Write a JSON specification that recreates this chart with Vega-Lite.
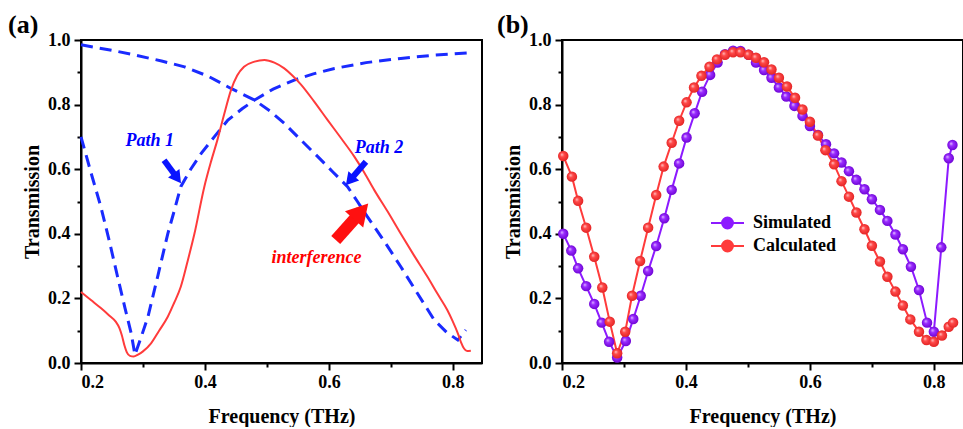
{
  "$schema": "https://vega.github.io/schema/vega-lite/v6.json",
  "background": "white",
  "padding": {"left": 7, "top": 11, "right": 0, "bottom": 0},
  "spacing": 13,
  "config": {
    "view": {"stroke": "black", "strokeWidth": 2},
    "font": "Liberation Serif",
    "axis": {
      "grid": false,
      "domainColor": "black", "domainWidth": 2,
      "tickColor": "black", "tickWidth": 2,
      "labelFont": "Liberation Serif", "labelFontWeight": "bold", "labelFontSize": 18, "labelColor": "black",
      "titleFont": "Liberation Serif", "titleFontWeight": "bold", "titleFontSize": 20, "titleColor": "black",
      "labelOverlap": false
    },
    "axisX": {"labelPadding": 3, "titlePadding": 15},
    "axisY": {"labelPadding": 4, "titlePadding": 5},
    "title": {"font": "Liberation Serif", "fontSize": 26, "fontWeight": "bold", "color": "black", "anchor": "start", "frame": "group", "offset": -7}
  },
  "datasets": {
    "interference": [
      {"f": 0.2, "t": 0.22}, {"f": 0.216, "t": 0.195}, {"f": 0.232, "t": 0.17}, {"f": 0.245, "t": 0.148},
      {"f": 0.256, "t": 0.128}, {"f": 0.262, "t": 0.108}, {"f": 0.266, "t": 0.085}, {"f": 0.27, "t": 0.055},
      {"f": 0.274, "t": 0.033}, {"f": 0.279, "t": 0.022}, {"f": 0.285, "t": 0.02}, {"f": 0.292, "t": 0.026},
      {"f": 0.3, "t": 0.036}, {"f": 0.313, "t": 0.061}, {"f": 0.326, "t": 0.1}, {"f": 0.34, "t": 0.143},
      {"f": 0.35, "t": 0.185}, {"f": 0.361, "t": 0.236}, {"f": 0.372, "t": 0.315}, {"f": 0.383, "t": 0.4},
      {"f": 0.399, "t": 0.546}, {"f": 0.41, "t": 0.625}, {"f": 0.42, "t": 0.69}, {"f": 0.431, "t": 0.77},
      {"f": 0.442, "t": 0.845}, {"f": 0.452, "t": 0.89}, {"f": 0.463, "t": 0.917}, {"f": 0.48, "t": 0.933},
      {"f": 0.496, "t": 0.938}, {"f": 0.512, "t": 0.93}, {"f": 0.528, "t": 0.912}, {"f": 0.541, "t": 0.89},
      {"f": 0.555, "t": 0.862}, {"f": 0.576, "t": 0.81}, {"f": 0.598, "t": 0.752}, {"f": 0.62, "t": 0.695},
      {"f": 0.641, "t": 0.639}, {"f": 0.657, "t": 0.59}, {"f": 0.673, "t": 0.536}, {"f": 0.695, "t": 0.468},
      {"f": 0.716, "t": 0.4}, {"f": 0.737, "t": 0.334}, {"f": 0.759, "t": 0.267}, {"f": 0.775, "t": 0.215},
      {"f": 0.791, "t": 0.164}, {"f": 0.8, "t": 0.128}, {"f": 0.808, "t": 0.092}, {"f": 0.813, "t": 0.065},
      {"f": 0.818, "t": 0.045}, {"f": 0.823, "t": 0.037}, {"f": 0.829, "t": 0.038}
    ],
    "paths": [
      {"series": "Path 1", "f": 0.2, "t": 0.7}, {"series": "Path 1", "f": 0.216, "t": 0.59},
      {"series": "Path 1", "f": 0.232, "t": 0.484}, {"series": "Path 1", "f": 0.246, "t": 0.375},
      {"series": "Path 1", "f": 0.259, "t": 0.267}, {"series": "Path 1", "f": 0.271, "t": 0.17},
      {"series": "Path 1", "f": 0.281, "t": 0.092}, {"series": "Path 1", "f": 0.287, "t": 0.025},
      {"series": "Path 1", "f": 0.297, "t": 0.08}, {"series": "Path 1", "f": 0.308, "t": 0.143},
      {"series": "Path 1", "f": 0.324, "t": 0.27}, {"series": "Path 1", "f": 0.34, "t": 0.4},
      {"series": "Path 1", "f": 0.351, "t": 0.475}, {"series": "Path 1", "f": 0.361, "t": 0.546},
      {"series": "Path 1", "f": 0.377, "t": 0.6}, {"series": "Path 1", "f": 0.394, "t": 0.649},
      {"series": "Path 1", "f": 0.415, "t": 0.7}, {"series": "Path 1", "f": 0.437, "t": 0.752},
      {"series": "Path 1", "f": 0.46, "t": 0.787}, {"series": "Path 1", "f": 0.48, "t": 0.814},
      {"series": "Path 1", "f": 0.51, "t": 0.848}, {"series": "Path 1", "f": 0.544, "t": 0.876},
      {"series": "Path 1", "f": 0.575, "t": 0.895}, {"series": "Path 1", "f": 0.609, "t": 0.912},
      {"series": "Path 1", "f": 0.66, "t": 0.93}, {"series": "Path 1", "f": 0.716, "t": 0.943},
      {"series": "Path 1", "f": 0.77, "t": 0.953}, {"series": "Path 1", "f": 0.829, "t": 0.961},
      {"series": "Path 2", "f": 0.2, "t": 0.985}, {"series": "Path 2", "f": 0.25, "t": 0.968},
      {"series": "Path 2", "f": 0.286, "t": 0.954}, {"series": "Path 2", "f": 0.33, "t": 0.935},
      {"series": "Path 2", "f": 0.367, "t": 0.917}, {"series": "Path 2", "f": 0.405, "t": 0.888},
      {"series": "Path 2", "f": 0.442, "t": 0.85}, {"series": "Path 2", "f": 0.48, "t": 0.814},
      {"series": "Path 2", "f": 0.505, "t": 0.78}, {"series": "Path 2", "f": 0.528, "t": 0.742},
      {"series": "Path 2", "f": 0.555, "t": 0.69}, {"series": "Path 2", "f": 0.582, "t": 0.639},
      {"series": "Path 2", "f": 0.606, "t": 0.592}, {"series": "Path 2", "f": 0.63, "t": 0.546},
      {"series": "Path 2", "f": 0.646, "t": 0.5}, {"series": "Path 2", "f": 0.662, "t": 0.453},
      {"series": "Path 2", "f": 0.69, "t": 0.375}, {"series": "Path 2", "f": 0.716, "t": 0.298},
      {"series": "Path 2", "f": 0.743, "t": 0.215}, {"series": "Path 2", "f": 0.77, "t": 0.133},
      {"series": "Path 2", "f": 0.79, "t": 0.095}, {"series": "Path 2", "f": 0.808, "t": 0.071},
      {"series": "Path 2", "f": 0.821, "t": 0.102}
    ],
    "labels": [
      {"text": "Path 1", "f": 0.311, "t": 0.687, "color": "blue"},
      {"text": "Path 2", "f": 0.681, "t": 0.667, "color": "blue"},
      {"text": "interference", "f": 0.58, "t": 0.325, "color": "red"}
    ],
    "arrows": [
      {"name": "Path 1", "f0": 0.334, "t0": 0.628, "f1": 0.3555, "t1": 0.572, "angle": 143.6},
      {"name": "Path 2", "f0": 0.6597, "t0": 0.623, "f1": 0.6337, "t1": 0.565, "angle": 220.6}
    ],
    "redarrow": [
      {"name": "interference", "f0": 0.611, "t0": 0.381, "f1": 0.652, "t1": 0.469, "angle": 41.8}
    ],
    "measured": [
      {"series": "Simulated", "f": 0.202, "t": 0.4}, {"series": "Simulated", "f": 0.215, "t": 0.348},
      {"series": "Simulated", "f": 0.226, "t": 0.293}, {"series": "Simulated", "f": 0.239, "t": 0.238},
      {"series": "Simulated", "f": 0.252, "t": 0.183}, {"series": "Simulated", "f": 0.264, "t": 0.125},
      {"series": "Simulated", "f": 0.276, "t": 0.066}, {"series": "Simulated", "f": 0.289, "t": 0.017},
      {"series": "Simulated", "f": 0.303, "t": 0.068}, {"series": "Simulated", "f": 0.315, "t": 0.136},
      {"series": "Simulated", "f": 0.327, "t": 0.208}, {"series": "Simulated", "f": 0.339, "t": 0.285},
      {"series": "Simulated", "f": 0.352, "t": 0.362}, {"series": "Simulated", "f": 0.365, "t": 0.448},
      {"series": "Simulated", "f": 0.377, "t": 0.536}, {"series": "Simulated", "f": 0.389, "t": 0.618},
      {"series": "Simulated", "f": 0.401, "t": 0.698}, {"series": "Simulated", "f": 0.414, "t": 0.773},
      {"series": "Simulated", "f": 0.426, "t": 0.84}, {"series": "Simulated", "f": 0.439, "t": 0.892},
      {"series": "Simulated", "f": 0.451, "t": 0.93}, {"series": "Simulated", "f": 0.463, "t": 0.956},
      {"series": "Simulated", "f": 0.476, "t": 0.967}, {"series": "Simulated", "f": 0.488, "t": 0.966},
      {"series": "Simulated", "f": 0.501, "t": 0.954}, {"series": "Simulated", "f": 0.513, "t": 0.93},
      {"series": "Simulated", "f": 0.526, "t": 0.907}, {"series": "Simulated", "f": 0.538, "t": 0.883},
      {"series": "Simulated", "f": 0.55, "t": 0.853}, {"series": "Simulated", "f": 0.562, "t": 0.825},
      {"series": "Simulated", "f": 0.575, "t": 0.796}, {"series": "Simulated", "f": 0.588, "t": 0.765},
      {"series": "Simulated", "f": 0.6, "t": 0.734}, {"series": "Simulated", "f": 0.613, "t": 0.706},
      {"series": "Simulated", "f": 0.626, "t": 0.677}, {"series": "Simulated", "f": 0.639, "t": 0.649},
      {"series": "Simulated", "f": 0.651, "t": 0.621}, {"series": "Simulated", "f": 0.663, "t": 0.594},
      {"series": "Simulated", "f": 0.675, "t": 0.567}, {"series": "Simulated", "f": 0.688, "t": 0.538},
      {"series": "Simulated", "f": 0.7, "t": 0.507}, {"series": "Simulated", "f": 0.713, "t": 0.474},
      {"series": "Simulated", "f": 0.725, "t": 0.44}, {"series": "Simulated", "f": 0.738, "t": 0.398},
      {"series": "Simulated", "f": 0.75, "t": 0.352}, {"series": "Simulated", "f": 0.763, "t": 0.298},
      {"series": "Simulated", "f": 0.776, "t": 0.226}, {"series": "Simulated", "f": 0.789, "t": 0.125},
      {"series": "Simulated", "f": 0.8, "t": 0.097}, {"series": "Simulated", "f": 0.812, "t": 0.358},
      {"series": "Simulated", "f": 0.824, "t": 0.634}, {"series": "Simulated", "f": 0.83, "t": 0.675},
      {"series": "Calculated", "f": 0.202, "t": 0.641}, {"series": "Calculated", "f": 0.216, "t": 0.577},
      {"series": "Calculated", "f": 0.226, "t": 0.502}, {"series": "Calculated", "f": 0.239, "t": 0.419},
      {"series": "Calculated", "f": 0.252, "t": 0.329}, {"series": "Calculated", "f": 0.265, "t": 0.234},
      {"series": "Calculated", "f": 0.277, "t": 0.128}, {"series": "Calculated", "f": 0.289, "t": 0.03},
      {"series": "Calculated", "f": 0.302, "t": 0.097}, {"series": "Calculated", "f": 0.313, "t": 0.208},
      {"series": "Calculated", "f": 0.326, "t": 0.316}, {"series": "Calculated", "f": 0.339, "t": 0.419},
      {"series": "Calculated", "f": 0.352, "t": 0.52}, {"series": "Calculated", "f": 0.364, "t": 0.608},
      {"series": "Calculated", "f": 0.377, "t": 0.682}, {"series": "Calculated", "f": 0.389, "t": 0.75},
      {"series": "Calculated", "f": 0.401, "t": 0.807}, {"series": "Calculated", "f": 0.413, "t": 0.853},
      {"series": "Calculated", "f": 0.425, "t": 0.889}, {"series": "Calculated", "f": 0.438, "t": 0.917},
      {"series": "Calculated", "f": 0.45, "t": 0.94}, {"series": "Calculated", "f": 0.463, "t": 0.954},
      {"series": "Calculated", "f": 0.476, "t": 0.962}, {"series": "Calculated", "f": 0.488, "t": 0.962},
      {"series": "Calculated", "f": 0.501, "t": 0.954}, {"series": "Calculated", "f": 0.513, "t": 0.945},
      {"series": "Calculated", "f": 0.526, "t": 0.931}, {"series": "Calculated", "f": 0.538, "t": 0.909},
      {"series": "Calculated", "f": 0.55, "t": 0.883}, {"series": "Calculated", "f": 0.563, "t": 0.856},
      {"series": "Calculated", "f": 0.576, "t": 0.821}, {"series": "Calculated", "f": 0.588, "t": 0.785},
      {"series": "Calculated", "f": 0.6, "t": 0.747}, {"series": "Calculated", "f": 0.613, "t": 0.704},
      {"series": "Calculated", "f": 0.625, "t": 0.659}, {"series": "Calculated", "f": 0.639, "t": 0.615},
      {"series": "Calculated", "f": 0.651, "t": 0.563}, {"series": "Calculated", "f": 0.663, "t": 0.515},
      {"series": "Calculated", "f": 0.675, "t": 0.466}, {"series": "Calculated", "f": 0.688, "t": 0.414},
      {"series": "Calculated", "f": 0.7, "t": 0.363}, {"series": "Calculated", "f": 0.713, "t": 0.314},
      {"series": "Calculated", "f": 0.725, "t": 0.267}, {"series": "Calculated", "f": 0.738, "t": 0.221},
      {"series": "Calculated", "f": 0.75, "t": 0.178}, {"series": "Calculated", "f": 0.762, "t": 0.135},
      {"series": "Calculated", "f": 0.776, "t": 0.097}, {"series": "Calculated", "f": 0.788, "t": 0.071},
      {"series": "Calculated", "f": 0.8, "t": 0.066}, {"series": "Calculated", "f": 0.813, "t": 0.085},
      {"series": "Calculated", "f": 0.824, "t": 0.112}, {"series": "Calculated", "f": 0.831, "t": 0.125}
    ]
  },
  "hconcat": [
    {
      "width": 401, "height": 323,
      "title": {"text": "(a)", "dx": -73},
      "encoding": {
        "x": {"field": "f", "type": "quantitative", "title": "Frequency (THz)",
          "scale": {"domain": [0.2, 0.847], "nice": false, "zero": false},
          "axis": {"values": [0.2, 0.3, 0.4, 0.5, 0.6, 0.7, 0.8],
            "labelExpr": "round(datum.value*10)%2==0 ? format(datum.value,'.1f') : ''",
            "tickSize": {"condition": {"test": "round(datum.value*10)%2==1", "value": 4}, "value": 7}}},
        "y": {"field": "t", "type": "quantitative", "title": "Transmission",
          "scale": {"domain": [0, 1], "nice": false},
          "axis": {"values": [0, 0.1, 0.2, 0.3, 0.4, 0.5, 0.6, 0.7, 0.8, 0.9, 1.0],
            "labelExpr": "round(datum.value*10)%2==0 ? format(datum.value,'.1f') : ''",
            "tickSize": {"condition": {"test": "round(datum.value*10)%2==1", "value": 4}, "value": 7}}}
      },
      "layer": [
        {"data": {"name": "paths"}, "mark": {"type": "line", "color": "#1a2bff", "strokeWidth": 3, "strokeDash": [12, 7]},
          "encoding": {"detail": {"field": "series", "type": "nominal"}}},
        {"data": {"name": "interference"}, "mark": {"type": "line", "color": "#ff3b3b", "strokeWidth": 2, "interpolate": "monotone"},
          "encoding": {}},
        {"data": {"name": "arrows"}, "mark": {"type": "rule", "color": "#0a14ff", "strokeWidth": 6},
          "encoding": {"x2": {"field": "f1"}, "y2": {"field": "t1"}, "x": {"field": "f0", "type": "quantitative"}, "y": {"field": "t0", "type": "quantitative"}}},
        {"data": {"name": "arrows"}, "mark": {"type": "point", "shape": "triangle-up", "filled": true, "color": "#0a14ff", "size": 200, "opacity": 1},
          "encoding": {"x": {"field": "f1", "type": "quantitative"}, "y": {"field": "t1", "type": "quantitative"}, "angle": {"field": "angle", "type": "quantitative", "scale": null}}},
        {"data": {"name": "redarrow"}, "mark": {"type": "rule", "color": "#ff1010", "strokeWidth": 12},
          "encoding": {"x2": {"field": "f1"}, "y2": {"field": "t1"}, "x": {"field": "f0", "type": "quantitative"}, "y": {"field": "t0", "type": "quantitative"}}},
        {"data": {"name": "redarrow"}, "mark": {"type": "point", "shape": "triangle-up", "filled": true, "color": "#ff1010", "size": 600, "opacity": 1},
          "encoding": {"x": {"field": "f1", "type": "quantitative"}, "y": {"field": "t1", "type": "quantitative"}, "angle": {"field": "angle", "type": "quantitative", "scale": null}}},
        {"data": {"name": "labels"}, "mark": {"type": "text", "font": "Liberation Serif", "fontStyle": "italic", "fontWeight": "bold", "fontSize": 18},
          "encoding": {"text": {"field": "text"}, "color": {"field": "color", "type": "nominal", "scale": null}}}
      ]
    },
    {
      "width": 401, "height": 323,
      "title": {"text": "(b)", "dx": -65},
      "encoding": {
        "x": {"field": "f", "type": "quantitative", "title": "Frequency (THz)",
          "scale": {"domain": [0.2, 0.847], "nice": false, "zero": false},
          "axis": {"values": [0.2, 0.3, 0.4, 0.5, 0.6, 0.7, 0.8],
            "labelExpr": "round(datum.value*10)%2==0 ? format(datum.value,'.1f') : ''",
            "tickSize": {"condition": {"test": "round(datum.value*10)%2==1", "value": 4}, "value": 7}}},
        "y": {"field": "t", "type": "quantitative", "title": "Transmission",
          "scale": {"domain": [0, 1], "nice": false},
          "axis": {"values": [0, 0.1, 0.2, 0.3, 0.4, 0.5, 0.6, 0.7, 0.8, 0.9, 1.0],
            "labelExpr": "round(datum.value*10)%2==0 ? format(datum.value,'.1f') : ''",
            "tickSize": {"condition": {"test": "round(datum.value*10)%2==1", "value": 4}, "value": 7}}}
      },
      "layer": [
        {"data": {"name": "measured"}, "mark": {"type": "line", "strokeWidth": 2},
          "encoding": {"color": {"field": "series", "type": "nominal",
            "scale": {"domain": ["Simulated", "Calculated"], "range": ["#8c1aff", "#ff3b3b"]},
            "legend": {"orient": "none", "legendX": 629, "legendY": 173, "title": null, "padding": 0,
              "labelFont": "Liberation Serif", "labelFontWeight": "bold", "labelFontSize": 18, "labelColor": "black",
              "symbolType": "M-1,0L-0.33,0M0.33,0L1,0M-0.33,0A0.33,0.33 0 1,1 0.33,0A0.33,0.33 0 1,1 -0.33,0Z",
              "symbolSize": 1089, "symbolStrokeWidth": 2, "rowPadding": 3, "clipHeight": 20, "labelOffset": 8,
              "encode": {"symbols": {"update": {"fill": {"scale": "color", "field": "value"}, "stroke": {"scale": "color", "field": "value"}, "opacity": {"value": 1}}}}}}}},
        {"data": {"name": "measured"}, "transform": [{"filter": "datum.series == 'Simulated'"}],
          "mark": {"type": "point", "filled": true, "size": 110, "opacity": 1,
            "fill": {"gradient": "radial", "x1": 0.35, "y1": 0.35, "r1": 0, "x2": 0.5, "y2": 0.5, "r2": 0.55,
              "stops": [{"offset": 0, "color": "#e6c6ff"}, {"offset": 0.35, "color": "#9a2dff"}, {"offset": 1, "color": "#6a00d0"}]}},
          "encoding": {}},
        {"data": {"name": "measured"}, "transform": [{"filter": "datum.series == 'Calculated'"}],
          "mark": {"type": "point", "filled": true, "size": 110, "opacity": 1,
            "fill": {"gradient": "radial", "x1": 0.35, "y1": 0.35, "r1": 0, "x2": 0.5, "y2": 0.5, "r2": 0.55,
              "stops": [{"offset": 0, "color": "#ffd0d0"}, {"offset": 0.35, "color": "#ff4a4a"}, {"offset": 1, "color": "#e02020"}]}},
          "encoding": {}}
      ]
    }
  ]
}
